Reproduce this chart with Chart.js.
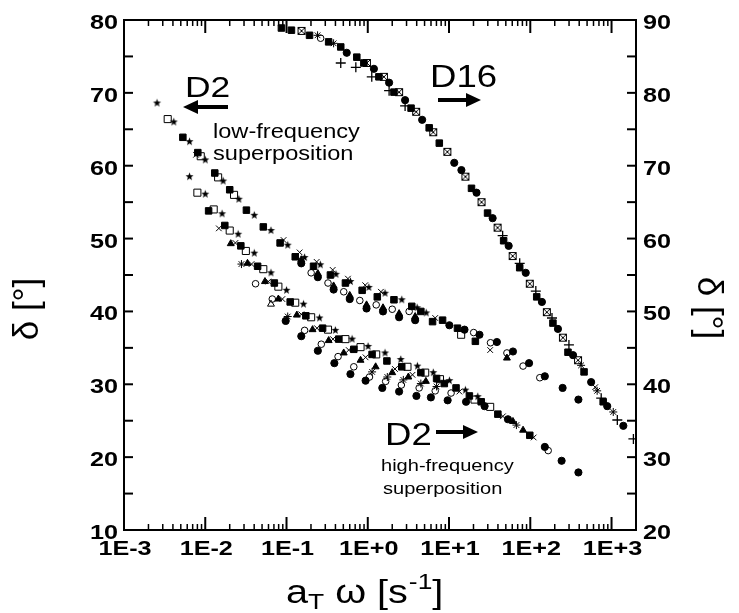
<!DOCTYPE html>
<html>
<head>
<meta charset="utf-8">
<script src="https://cdn.jsdelivr.net/npm/chart.js@4.4.1/dist/chart.umd.min.js"></script>
<style>
  html, body { margin: 0; padding: 0; background: #fff; }
</style>
</head>
<body>
<canvas id="chart" width="739" height="613"></canvas>
<script>
// Axis ticks
const xTickValues = [1e-3, 1e-2, 1e-1, 1e0, 1e1, 1e2, 1e3];
const xTickLabels = ['1E-3', '1E-2', '1E-1', '1E+0', '1E+1', '1E+2', '1E+3'];
const leftTicks = [10, 20, 30, 40, 50, 60, 70, 80];
const rightTicks = [20, 30, 40, 50, 60, 70, 80, 90];

// D2, low-frequency superposition (left axis) : [aT*omega, delta]
const loStar = [[0.00255,68.6],[0.0041,66.0],[0.0064,63.3],[0.010,60.8],[0.0166,57.9],[0.0259,55.4],[0.0401,53.2],[0.0644,51.1],[0.1035,49.1],[0.167,47.4],[0.261,46.4],[0.406,45.1],[0.612,44.1],[1.03,43.3],[1.63,42.5],[2.62,41.6],[4.05,40.5],[5.24,39.8]];
const loFilledSquare = [[0.0053,63.9],[0.0081,61.8],[0.0131,59.0],[0.020,56.7],[0.0321,53.9],[0.0518,51.6],[0.0834,49.4],[0.128,47.5],[0.215,46.2],[0.347,45.0],[0.531,43.9],[0.853,42.9],[1.31,42.0],[2.10,41.6],[3.48,40.7],[4.50,40.0],[6.27,38.6],[8.33,38.8],[12.7,37.7],[21.1,35.9]];
const loCross = [[0.0077,61.5],[0.092,49.8],[0.145,48.1],[0.235,46.8],[0.37,45.7],[0.57,44.5],[0.93,43.6],[1.45,42.7],[6.76,39.1],[32.1,34.7]];
const loFilledCircle = [[0.152,46.6],[0.243,44.7],[0.380,43.0],[0.60,41.7],[0.966,40.4],[1.54,40.0],[2.43,39.2],[3.83,38.8],[10.1,38.1],[15.5,37.5],[23.7,36.8],[38.8,35.8],[61.2,34.5],[96.6,32.9],[151,31.1],[250,29.5],[391,27.9]];
const loTriangle = [[0.152,47.1],[0.243,45.2],[0.380,43.5],[0.60,42.2],[0.966,40.9],[1.54,40.5],[2.43,39.7],[3.83,39.3],[51.6,33.6]];
const loOpenCircle = [[0.201,45.3],[0.324,43.9],[0.506,42.7],[0.798,41.5],[1.27,40.9],[2.0,40.3],[3.23,40.0],[20.1,37.1],[32.4,35.7],[51.6,34.3],[81.5,32.5],[131,30.9]];
const loOpenSquare = [[0.00345,66.4],[0.0088,61.3],[0.0144,58.4],[0.0226,56.0],[14.1,36.8]];

// D2, high-frequency superposition (left axis)
const hiStar = [[0.0064,58.5],[0.010,56.1],[0.0161,53.4],[0.0254,50.6],[0.0401,48.0],[0.0644,45.3],[0.100,42.9],[0.162,41.0],[0.255,39.1],[0.399,37.4],[0.641,36.2],[1.01,35.2],[1.63,34.3],[2.55,33.4],[4.08,32.5],[6.4,31.6],[10.1,30.5],[15.9,29.2],[22.6,28.3]];
const hiOpenSquare = [[0.0080,56.3],[0.0127,54.0],[0.020,51.1],[0.0316,48.3],[0.0518,45.8],[0.0794,43.4],[0.128,41.2],[0.201,39.2],[0.324,37.5],[0.531,36.2],[0.815,35.1],[1.27,34.1],[3.08,32.4],[5.09,31.6],[7.74,30.7],[20.6,27.9],[32.1,26.9]];
const hiFilledSquare = [[0.011,53.8],[0.0174,51.8],[0.0274,49.0],[0.0441,46.2],[0.0708,43.9],[0.111,41.3],[0.173,39.4],[0.278,37.7],[0.439,36.2],[0.673,34.8],[1.13,34.1],[1.72,33.2],[2.62,32.4],[4.5,31.6],[7.03,30.8],[8.75,30.1],[12.2,29.5],[17.8,28.4],[24.9,27.6],[39.9,25.9],[98.6,23.0]];
const hiCross = [[0.0147,51.4],[0.0235,49.4],[0.0371,46.5],[0.0597,44.1],[0.0889,41.7],[0.152,39.6],[0.237,37.7],[0.373,36.2],[0.583,34.7],[0.94,33.7],[2.16,32.1],[3.55,31.3],[13.4,29.0],[46.0,25.6],[110,22.7]];
const hiTriangle = [[0.0206,49.3],[0.0331,46.6],[0.0543,44.1],[0.0794,41.7],[0.134,39.5],[0.209,37.5],[0.33,36.0],[0.506,34.3],[0.815,33.3],[1.25,32.4],[2.0,31.6],[3.16,31.0],[5.19,30.4],[7.23,30.6],[61.2,24.9],[81.5,23.7]];
const hiAsterisk = [[0.0279,46.5],[0.1035,39.3],[1.13,31.7],[1.74,31.0],[2.74,30.6],[4.5,30.1],[7.03,29.7],[67.5,24.4]];
const hiOpenCircle = [[0.0416,43.8],[0.0668,41.7],[0.167,37.4],[0.268,35.5],[0.431,33.8],[0.673,32.4],[1.05,31.0],[1.66,30.4],[2.59,29.9],[4.29,29.5],[6.76,29.1],[10.6,28.8],[166,20.9]];
const hiOpenTriangle = [[0.0644,41.0]];
const hiFilledCircle = [[0.0977,38.7],[0.152,36.6],[0.243,34.6],[0.388,32.9],[0.612,31.4],[0.94,30.5],[1.51,29.5],[2.43,29.0],[3.97,28.4],[5.98,28.2],[9.62,27.8],[16.2,27.6],[27.4,27.0],[53.1,25.2],[151,21.4],[243,19.5],[391,17.9]];

// D16 (right axis)
const d16FilledSquare = [[0.0865,88.9],[0.115,88.6],[0.192,87.9],[0.33,87.0],[0.465,86.3],[0.733,84.9],[0.895,84.1],[1.37,82.2],[2.10,80.1],[3.41,77.9],[5.70,75.2],[7.59,73.1],[18.9,66.9],[29.8,63.5],[47.0,59.7],[74.1,56.0],[120,52.0],[190,48.4],[291,44.4],[459,41.7],[789,37.6]];
const d16FilledCircle = [[0.551,85.5],[1.19,83.3],[1.83,81.4],[2.88,79.0],[4.67,76.3],[11.6,70.4],[14.2,69.4],[21.8,66.3],[34.4,62.8],[54.2,59.0],[87.9,55.3],[139,51.3],[219,47.6],[336,44.0],[561,40.3],[885,37.0],[1397,34.3]];
const d16Boxed = [[0.153,88.5],[0.975,84.1],[1.58,82.2],[2.43,80.1],[3.94,77.4],[6.39,74.6],[9.53,71.9],[15.9,68.5],[25.1,65.0],[39.6,61.5],[60.7,57.6],[98.6,53.8],[160,49.9],[252,46.4],[387,43.3]];
const d16Plus = [[0.465,84.1],[0.713,83.5],[1.12,82.2],[1.83,80.3],[2.88,78.2],[45.7,60.4],[74.1,56.6],[117,52.8],[185,49.1],[299,45.4],[746,38.1],[1178,35.1],[1858,32.5]];
const d16Asterisk = [[0.241,87.9],[0.38,86.8],[422,42.6],[665,39.1],[1050,36.2]];
const d16Cross = [[629,39.6]];
const d16OpenCircle = [[0.263,87.5]];

const FONT = '"Liberation Sans", Arial, sans-serif';
Chart.defaults.font.family = FONT;
Chart.defaults.color = '#000';

// little marker images for shapes Chart.js lacks
function starImage(r) {
  const c = document.createElement('canvas');
  const s = Math.ceil(r * 2) + 2;
  c.width = c.height = s;
  const g = c.getContext('2d');
  g.translate(s / 2, s / 2);
  g.beginPath();
  for (let i = 0; i < 10; i++) {
    const rad = i % 2 ? r * 0.42 : r;
    const a = -Math.PI / 2 + i * Math.PI / 5;
    g.lineTo(rad * Math.cos(a), rad * Math.sin(a));
  }
  g.closePath();
  g.fillStyle = '#000';
  g.fill();
  return c;
}

function boxedImage(size) {
  const c = document.createElement('canvas');
  c.width = c.height = size + 2;
  const g = c.getContext('2d');
  g.strokeStyle = '#000';
  g.lineWidth = 1;
  g.strokeRect(1.5, 1.5, size - 1, size - 1);
  g.beginPath();
  g.moveTo(2, 2); g.lineTo(size, size);
  g.moveTo(size, 2); g.lineTo(2, size);
  g.stroke();
  return c;
}

const star = starImage(4.2);
const boxed = boxedImage(8);

const pts = arr => arr.map(p => ({ x: p[0], y: p[1] }));

function series(data, style, axis) {
  const base = { data: pts(data), yAxisID: axis, borderColor: '#000', borderWidth: 1, pointHoverRadius: 0 };
  const s = {
    filledSquare: { pointStyle: 'rect', pointRadius: 4.6, backgroundColor: '#000' },
    openSquare: { pointStyle: 'rect', pointRadius: 5, backgroundColor: 'rgba(0,0,0,0)' },
    filledCircle: { pointStyle: 'circle', pointRadius: 3.6, backgroundColor: '#000' },
    openCircle: { pointStyle: 'circle', pointRadius: 3.3, backgroundColor: 'rgba(0,0,0,0)' },
    star: { pointStyle: star, pointRadius: 4 },
    cross: { pointStyle: 'crossRot', pointRadius: 4 },
    plus: { pointStyle: 'cross', pointRadius: 5, borderWidth: 1.3 },
    asterisk: { pointStyle: 'star', pointRadius: 4 },
    triangle: { pointStyle: 'triangle', pointRadius: 4, backgroundColor: '#000' },
    openTriangle: { pointStyle: 'triangle', pointRadius: 4, backgroundColor: 'rgba(0,0,0,0)' },
    boxed: { pointStyle: boxed, pointRadius: 4 }
  }[style];
  return Object.assign(base, s);
}

// text drawn slightly wide, like the original figure
function wideText(ctx, text, x, y, font, sx, align) {
  ctx.save();
  ctx.font = font;
  ctx.translate(x, y);
  ctx.scale(sx, 1);
  const w = ctx.measureText(text).width;
  let dx = 0;
  if (align === 'center') dx = -w / 2;
  if (align === 'right') dx = -w;
  ctx.fillText(text, dx, 0);
  ctx.restore();
  return w * sx;
}

// frame with inward tick marks, plus the tick labels
const framePlugin = {
  id: 'frame',
  afterDatasetsDraw(chart) {
    const { ctx, chartArea: a, scales } = chart;
    ctx.save();
    ctx.strokeStyle = '#000';
    ctx.fillStyle = '#000';
    const line = (x1, y1, x2, y2, w) => {
      ctx.lineWidth = w;
      ctx.beginPath(); ctx.moveTo(x1, y1); ctx.lineTo(x2, y2); ctx.stroke();
    };
    for (let e = -3; e <= 3; e++) {
      for (let m = 1; m <= 9; m++) {
        const v = m * Math.pow(10, e);
        if (v > scales.x.max) break;
        const px = scales.x.getPixelForValue(v);
        const len = m === 1 ? 13 : 6;
        const w = m === 1 ? 2 : 1.5;
        line(px, a.bottom, px, a.bottom - len, w);
        line(px, a.top, px, a.top + len, w);
      }
    }
    for (let v = 10; v <= 80; v += 5) {
      const py = scales.y.getPixelForValue(v);
      line(a.left, py, a.left + 9, py, 2);
    }
    for (let v = 20; v <= 90; v += 5) {
      const py = scales.y2.getPixelForValue(v);
      line(a.right - 9, py, a.right, py, 2);
    }
    ctx.lineWidth = 2;
    ctx.strokeRect(a.left, a.top, a.right - a.left, a.bottom - a.top);

    const tf = 'bold 21px ' + FONT;
    ctx.textBaseline = 'alphabetic';
    xTickValues.forEach((v, i) => {
      wideText(ctx, xTickLabels[i], scales.x.getPixelForValue(v) + 1, a.bottom + 25, tf, 1.2, 'center');
    });
    leftTicks.forEach(v => {
      wideText(ctx, String(v), a.left - 6, scales.y.getPixelForValue(v) + 9, tf, 1.2, 'right');
    });
    rightTicks.forEach(v => {
      wideText(ctx, String(v), a.right + 7, scales.y2.getPixelForValue(v) + 9, tf, 1.2, 'left');
    });
    ctx.restore();
  }
};

function arrow(ctx, x1, y, x2) {
  const dir = Math.sign(x2 - x1);
  const head = 15;
  ctx.save();
  ctx.strokeStyle = '#000';
  ctx.lineWidth = 4;
  ctx.beginPath(); ctx.moveTo(x1, y); ctx.lineTo(x2 - dir * head, y); ctx.stroke();
  ctx.beginPath();
  ctx.moveTo(x2, y);
  ctx.lineTo(x2 - dir * head, y - 7);
  ctx.lineTo(x2 - dir * head, y + 7);
  ctx.closePath();
  ctx.fill();
  ctx.restore();
}

const annotationPlugin = {
  id: 'annotations',
  afterDraw(chart) {
    const ctx = chart.ctx;
    const f = size => size + 'px ' + FONT;
    ctx.save();
    ctx.fillStyle = '#000';
    ctx.textBaseline = 'alphabetic';
    ctx.textAlign = 'left';

    wideText(ctx, 'D2', 185, 97, f(30), 1.18);
    arrow(ctx, 228, 107, 183);
    wideText(ctx, 'low-frequency', 213, 138, f(20), 1.18);
    wideText(ctx, 'superposition', 213, 160, f(20), 1.18);

    wideText(ctx, 'D16', 430, 87, f(31), 1.18);
    arrow(ctx, 438, 100, 481);

    wideText(ctx, 'D2', 385, 445, f(31), 1.18);
    arrow(ctx, 436, 432, 478);
    wideText(ctx, 'high-frequency', 381, 471, f(17), 1.18);
    wideText(ctx, 'superposition', 383, 494, f(17), 1.18);

    // x axis title: a_T ω [s^-1]
    let x = 286;
    const base = 603;
    x += wideText(ctx, 'a', x, base, f(33), 1.2);
    x += wideText(ctx, 'T', x, base + 6, f(22), 1.2);
    x += wideText(ctx, ' \u03c9 [s', x, base, f(33), 1.2);
    x += wideText(ctx, '-1', x + 1, base - 14, f(22), 1.2) + 1;
    wideText(ctx, ']', x, base, f(33), 1.2);

    // y axis titles
    ctx.font = f(35);
    ctx.textAlign = 'center';
    ctx.textBaseline = 'middle';
    ctx.save();
    ctx.translate(28, 309);
    ctx.rotate(-Math.PI / 2);
    ctx.fillText('\u03b4 [\u00b0]', 0, 0);
    ctx.restore();
    ctx.save();
    ctx.translate(708, 308);
    ctx.rotate(Math.PI / 2);
    ctx.fillText('\u03b4 [\u00b0]', 0, 0);
    ctx.restore();
    ctx.restore();
  }
};

new Chart(document.getElementById('chart'), {
  type: 'scatter',
  data: {
    datasets: [
      series(loStar, 'star', 'y'),
      series(loOpenSquare, 'openSquare', 'y'),
      series(loFilledSquare, 'filledSquare', 'y'),
      series(loCross, 'cross', 'y'),
      series(loOpenCircle, 'openCircle', 'y'),
      series(loTriangle, 'triangle', 'y'),
      series(loFilledCircle, 'filledCircle', 'y'),
      series(hiStar, 'star', 'y'),
      series(hiOpenSquare, 'openSquare', 'y'),
      series(hiFilledSquare, 'filledSquare', 'y'),
      series(hiCross, 'cross', 'y'),
      series(hiTriangle, 'triangle', 'y'),
      series(hiOpenTriangle, 'openTriangle', 'y'),
      series(hiAsterisk, 'asterisk', 'y'),
      series(hiOpenCircle, 'openCircle', 'y'),
      series(hiFilledCircle, 'filledCircle', 'y'),
      series(d16Boxed, 'boxed', 'y2'),
      series(d16Plus, 'plus', 'y2'),
      series(d16Asterisk, 'asterisk', 'y2'),
      series(d16Cross, 'cross', 'y2'),
      series(d16OpenCircle, 'openCircle', 'y2'),
      series(d16FilledSquare, 'filledSquare', 'y2'),
      series(d16FilledCircle, 'filledCircle', 'y2')
    ]
  },
  options: {
    responsive: false,
    animation: false,
    devicePixelRatio: 1,
    layout: { padding: { top: 20, left: 0, right: 0, bottom: 0 } },
    plugins: { legend: { display: false }, tooltip: { enabled: false } },
    scales: {
      x: {
        type: 'logarithmic',
        min: 1e-3,
        max: 2e3,
        grid: { display: false, drawTicks: false },
        border: { display: false },
        afterBuildTicks: s => { s.ticks = xTickValues.map(v => ({ value: v })); },
        afterFit: s => { s.height = 83; },
        ticks: { display: false }
      },
      y: {
        position: 'left',
        min: 10,
        max: 80,
        grid: { display: false, drawTicks: false },
        border: { display: false },
        afterBuildTicks: s => { s.ticks = leftTicks.map(v => ({ value: v })); },
        afterFit: s => { s.width = 124; },
        ticks: { display: false }
      },
      y2: {
        position: 'right',
        min: 20,
        max: 90,
        grid: { display: false, drawTicks: false },
        border: { display: false },
        afterBuildTicks: s => { s.ticks = rightTicks.map(v => ({ value: v })); },
        afterFit: s => { s.width = 103; },
        ticks: { display: false }
      }
    }
  },
  plugins: [framePlugin, annotationPlugin]
});
</script>
</body>
</html>
